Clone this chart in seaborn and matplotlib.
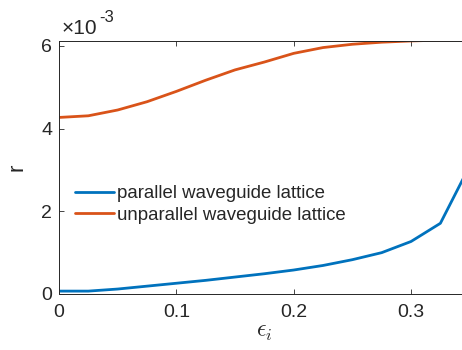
import numpy as np
import pandas as pd
import seaborn as sns
import matplotlib
matplotlib.use("Agg")
import matplotlib.pyplot as plt

# epsilon_i values and r (in units of 1e-3)
eps = [0, 0.025, 0.05, 0.075, 0.1, 0.125, 0.15, 0.175, 0.2, 0.225, 0.25, 0.275, 0.3, 0.325, 0.35]
r_parallel = [0.07, 0.07, 0.12, 0.19, 0.26, 0.33, 0.41, 0.49, 0.58, 0.69, 0.83, 1.00, 1.27, 1.71, 3.10]
r_unparallel = [4.27, 4.31, 4.45, 4.65, 4.90, 5.17, 5.42, 5.61, 5.82, 5.96, 6.04, 6.09, 6.12, 6.14, 6.15]
labels = ["parallel waveguide lattice", "unparallel waveguide lattice"]
xticks = [0, 0.1, 0.2, 0.3]
yticks = [0, 2, 4, 6]

data = pd.DataFrame({
    "eps": eps * 2,
    "r": r_parallel + r_unparallel,
    "series": [labels[0]] * len(eps) + [labels[1]] * len(eps),
})

sns.set_style("ticks")
plt.rcParams["font.family"] = ["Liberation Sans", "DejaVu Sans"]

dark = "#262626"
fig = plt.figure(figsize=(4.62, 3.5), dpi=100)
ax = fig.add_axes([0.1277, 0.16, 0.889, 0.723])

sns.lineplot(data=data, x="eps", y="r", hue="series",
             palette=["#0072BD", "#D95319"], linewidth=2.0, ax=ax)

ax.set_xlim(0, 0.35)
ax.set_ylim(0, 6.12)
ax.set_xticks(xticks)
ax.set_xticklabels(["0", "0.1", "0.2", "0.3"])
ax.set_yticks(yticks)
ax.tick_params(direction="in", top=True, right=True, length=3.5, width=0.6,
               labelsize=14, colors=dark)
ax.tick_params(axis="x", pad=7)
ax.tick_params(axis="y", pad=5)
for s in ax.spines.values():
    s.set_color(dark)
    s.set_linewidth(0.7)

ax.set_xlabel(r"$\epsilon_i$", fontsize=17, color=dark, labelpad=0,
              math_fontfamily="cm")
ax.set_ylabel("r", fontsize=16, color=dark, labelpad=10)
ax.text(0.005, 1.01, "\u00d710", transform=ax.transAxes,
        fontsize=15, color=dark, ha="left", va="bottom")
ax.text(0.098, 1.065, "-3", transform=ax.transAxes,
        fontsize=12, color=dark, ha="left", va="bottom")

leg = ax.legend(loc="upper left", bbox_to_anchor=(0.02, 0.46), frameon=False,
                fontsize=13.4, handlelength=2.1, handletextpad=0.2,
                labelspacing=0.25, borderaxespad=0)
for t in leg.get_texts():
    t.set_color(dark)

plt.savefig("out.png", dpi=100)
plt.close()
